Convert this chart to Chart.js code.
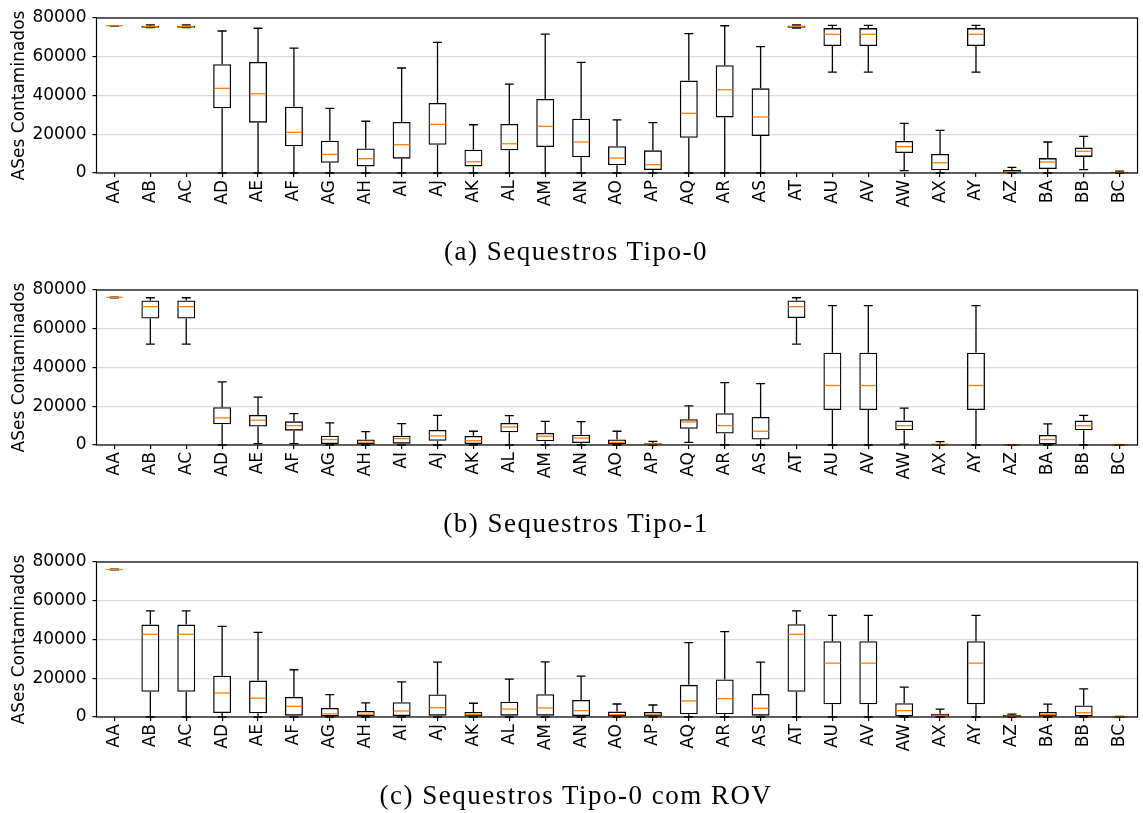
<!DOCTYPE html>
<html><head><meta charset="utf-8">
<script src="https://cdn.jsdelivr.net/npm/chart.js@4"></script>
<style>
body{margin:0;background:#fff;width:1143px;height:813px;overflow:hidden;position:relative}
.p{position:absolute;left:0;width:1143px;height:240px}
.cap{position:absolute;left:0;width:1152px;text-align:center;font-family:"Liberation Serif",serif;font-size:27px;line-height:27px;letter-spacing:1.5px;color:#000;white-space:nowrap}
</style></head><body>
<div class="p" style="top:0"><canvas id="c0" width="1143" height="240"></canvas></div>
<div class="cap" style="top:238px">(a) Sequestros Tipo-0</div>
<div class="p" style="top:272px"><canvas id="c1" width="1143" height="240"></canvas></div>
<div class="cap" style="top:510px">(b) Sequestros Tipo-1</div>
<div class="p" style="top:544px"><canvas id="c2" width="1143" height="240"></canvas></div>
<div class="cap" style="top:782px">(c) Sequestros Tipo-0 com ROV</div>
<script>
const categories = ['AA','AB','AC','AD','AE','AF','AG','AH','AI','AJ','AK','AL','AM','AN','AO','AP','AQ','AR','AS','AT','AU','AV','AW','AX','AY','AZ','BA','BB','BC'];
const yTicks = [0, 20000, 40000, 60000, 80000];

// (a) Tipo-0
const t0Low  = [75800,75000,75000,0,0,0,0,0,0,0,0,0,0,0,0,0,0,0,0,74800,52100,52100,1200,0,52100,0,0,1700,0];
const t0Q1   = [75900,75000,75000,33400,26000,13800,5300,3400,7400,14600,3400,11700,13400,8100,4000,1500,18200,28700,19100,75000,65500,65500,10300,1400,65500,300,2100,8300,100];
const t0Med  = [76000,75500,75500,43700,40900,21000,9600,7400,14600,25100,5800,15100,24100,16000,7700,4300,30800,43000,28900,75700,71600,71600,13600,5300,71600,700,5700,11200,300];
const t0Q3   = [76100,76000,76000,56100,57300,34200,16700,12700,26300,36100,12000,25300,38200,28000,13800,11700,47700,55600,43700,76000,74800,74800,16500,9800,74800,1500,7700,13100,500];
const t0High = [76100,76500,76500,73300,74700,64500,33400,26700,54200,67400,24900,45900,71700,57100,27400,26000,71900,76000,65200,76400,76200,76200,25600,22000,76200,2900,16000,18900,1000];

// (b) Tipo-1
const t1Low  = [76000,52100,52100,0,700,700,0,0,0,0,0,0,0,0,0,0,1400,0,0,52100,0,0,500,0,0,0,0,0,0];
const t1Q1   = [76100,65300,65300,10700,9500,7400,500,300,700,2200,500,6600,1900,1000,500,200,8400,5900,2800,65500,18100,18100,7600,200,18100,0,300,7600,0];
const t1Med  = [76200,71400,71400,14000,12800,10000,2800,1400,3300,4700,2200,9300,4500,3600,1400,500,11900,10000,7100,71400,30700,30700,10000,300,30700,50,2800,10000,50];
const t1Q3   = [76300,74600,74600,19500,15500,12200,4800,2900,4800,7800,4700,11400,6200,5300,2900,900,13300,16400,14500,74600,47600,47600,12600,700,47600,100,5200,12600,100];
const t1High = [76300,76000,76000,32600,24700,16200,11400,6900,11000,15300,7100,15200,12200,12100,7100,1900,20200,32200,31700,76000,71900,71900,19000,1700,71900,200,10900,15300,200];

// (c) Tipo-0 com ROV
const rovLow  = [75900,0,0,0,0,0,0,0,0,0,0,0,0,0,0,0,0,0,0,0,0,0,0,0,0,0,0,0,0];
const rovQ1   = [76000,13000,13000,2100,1900,700,300,300,500,700,300,700,700,500,300,300,1400,1400,700,13000,6600,6600,300,200,6600,100,300,300,0];
const rovMed  = [76100,42700,42700,12400,9700,5500,1600,1400,3100,4800,1200,4100,4700,3300,1200,1200,8300,9500,4500,42700,27800,27800,3300,900,27800,500,1200,2200,100];
const rovQ3   = [76200,47700,47700,21300,18800,10400,4700,3100,7600,11600,2600,7900,11800,8800,2800,2600,16600,19400,11900,47900,39100,39100,7100,1700,39100,1000,2600,5900,200];
const rovHigh = [76300,54800,54800,46800,43700,24400,11600,7300,18100,28300,7100,19500,28500,21100,6700,6200,38400,44100,28300,54800,52500,52500,15400,4100,52500,1500,6600,14500,300];

const panels = [
  {id:'c0', low:t0Low, q1:t0Q1, med:t0Med, q3:t0Q3, high:t0High},
  {id:'c1', low:t1Low, q1:t1Q1, med:t1Med, q3:t1Q3, high:t1High},
  {id:'c2', low:rovLow, q1:rovQ1, med:rovMed, q3:rovQ3, high:rovHigh}
];

const LW = 1.3;

const boxPlugin = {
  id: 'boxWhiskers',
  afterDatasetsDraw(chart) {
    const s = chart.options.plugins.boxWhiskers.stats;
    const {ctx, scales: {x, y}} = chart;
    const meta = chart.getDatasetMeta(0);
    ctx.save();
    ctx.lineWidth = LW;
    ctx.lineCap = 'butt';
    for (let i = 0; i < categories.length; i++) {
      const cx = x.getPixelForValue(i);
      const w = meta.data[i].width;
      const yLo = y.getPixelForValue(s.low[i]);
      const yHi = y.getPixelForValue(s.high[i]);
      const yQ1 = y.getPixelForValue(s.q1[i]);
      const yQ3 = y.getPixelForValue(s.q3[i]);
      const yMd = y.getPixelForValue(s.med[i]);
      ctx.strokeStyle = '#000';
      ctx.beginPath();
      ctx.moveTo(cx, yQ1); ctx.lineTo(cx, yLo);
      ctx.moveTo(cx, yQ3); ctx.lineTo(cx, yHi);
      ctx.moveTo(cx - w / 4, yLo); ctx.lineTo(cx + w / 4, yLo);
      ctx.moveTo(cx - w / 4, yHi); ctx.lineTo(cx + w / 4, yHi);
      ctx.stroke();
      ctx.strokeStyle = '#ff7f0e';
      ctx.beginPath();
      ctx.moveTo(cx - w / 2 + 1, yMd); ctx.lineTo(cx + w / 2 - 1, yMd);
      ctx.stroke();
    }
    ctx.restore();
  }
};

const framePlugin = {
  id: 'frame',
  afterDraw(chart) {
    const {ctx, chartArea: a} = chart;
    ctx.save();
    ctx.strokeStyle = '#000';
    ctx.lineWidth = 1.2;
    ctx.strokeRect(a.left, a.top, a.right - a.left, a.bottom - a.top);
    ctx.restore();
  }
};

Chart.defaults.color = '#000';
Chart.defaults.font.family = '"DejaVu Sans", sans-serif';
Chart.defaults.font.size = 17;

panels.forEach(p => {
  new Chart(document.getElementById(p.id), {
    type: 'bar',
    data: {
      labels: categories,
      datasets: [{
        data: categories.map((c, i) => [p.q1[i], p.q3[i]]),
        backgroundColor: 'rgba(0,0,0,0)',
        borderColor: '#000',
        borderWidth: LW,
        borderSkipped: false,
        barPercentage: 0.5,
        categoryPercentage: 1.0
      }]
    },
    options: {
      responsive: false,
      animation: false,
      layout: {padding: {top: 18, bottom: 17, left: 0, right: 1.5}},
      plugins: {
        legend: {display: false},
        tooltip: {enabled: false},
        boxWhiskers: {stats: p}
      },
      scales: {
        x: {
          offset: true,
          grid: {offset: false, drawOnChartArea: false, drawTicks: true, tickLength: 4, tickColor: '#000', lineWidth: 1.2},
          border: {display: false},
          ticks: {minRotation: 90, maxRotation: 90, autoSkip: false, padding: 3, font: {size: 17}},
          afterFit: s => { s.height = 50; }
        },
        y: {
          min: 0, max: 80000,
          afterBuildTicks: s => { s.ticks = yTicks.map(v => ({value: v})); },
          grid: {color: '#dcdcdc', lineWidth: 1.2, drawTicks: true, tickLength: 4, tickColor: '#000'},
          border: {display: false},
          ticks: {padding: 6, callback: v => String(v), font: {size: 17}},
          title: {display: true, text: 'ASes Contaminados', font: {size: 17}, padding: {top: 9, bottom: 0}},
          afterFit: s => { s.width = 96.5; }
        }
      }
    },
    plugins: [boxPlugin, framePlugin]
  });
});
</script>
</body></html>
